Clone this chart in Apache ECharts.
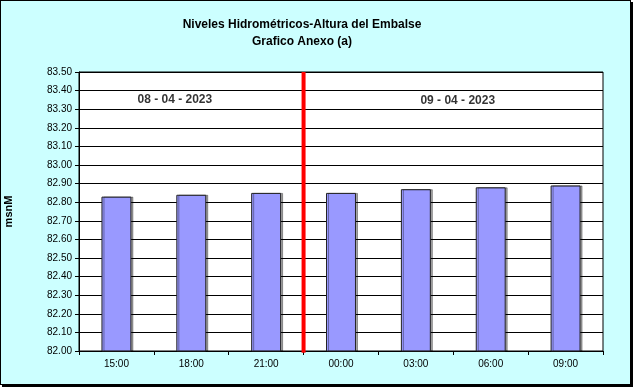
<!DOCTYPE html>
<html>
<head>
<meta charset="utf-8">
<script src="https://cdn.jsdelivr.net/npm/echarts@6/dist/echarts.min.js"></script>
<style>
html,body{margin:0;padding:0;background:#fff;}
#c{position:absolute;left:0;top:0;width:629px;height:383px;border:1px solid #000;box-shadow:2px 2px 0 #000;background:#CCFFFF;}
</style>
</head>
<body>
<div id="c"></div>
<script>
var categories = ['15:00','18:00','21:00','00:00','03:00','06:00','09:00'];
var levels = [82.83, 82.84, 82.85, 82.85, 82.87, 82.88, 82.89];
var yMin = 82.00, yMax = 83.50, yStep = 0.10;
var dividerAt = 2.5; // between 21:00 and 00:00
var dateLabels = ['08 - 04 - 2023', '09 - 04 - 2023'];
var dateLabelX = [0.78, 4.56];
var dateLabelY = [83.35, 83.345];

var chart = echarts.init(document.getElementById('c'), null, {renderer:'canvas'});
var font = 'Liberation Sans, Arial, sans-serif';
chart.setOption({
  backgroundColor: '#CCFFFF',
  animation: false,
  title: {
    text: 'Niveles Hidrométricos-Altura del Embalse\nGrafico Anexo (a)',
    left: 296, top: 10, textAlign: 'center',
    textStyle: {fontFamily: font, fontSize: 12, fontWeight: 'bold', color: '#000', lineHeight: 17}
  },
  grid: {left: 78, top: 71, width: 524, height: 279, show: true, backgroundColor: '#fff', borderColor: '#000', borderWidth: 1, containLabel: false, outerBoundsMode: 'none'},
  xAxis: [{
    type: 'category', data: categories, boundaryGap: true,
    axisLine: {show: true, onZero: false, lineStyle: {color: '#000'}},
    axisTick: {show: true, alignWithLabel: false, length: 4, lineStyle: {color: '#000'}},
    axisLabel: {fontFamily: font, fontSize: 10, color: '#000', margin: 8},
    splitLine: {show: false}
  }, {
    type: 'value', min: -0.5, max: categories.length - 0.5, show: false,
    axisLine: {show: false, onZero: false}, axisTick: {show: false}, axisLabel: {show: false}, splitLine: {show: false}
  }],
  yAxis: {
    type: 'value', min: yMin, max: yMax, interval: yStep,
    name: 'msnM', nameLocation: 'middle', nameGap: 65,
    nameTextStyle: {fontFamily: font, fontSize: 11, fontWeight: 'bold', color: '#000'},
    axisLine: {show: true, onZero: false, lineStyle: {color: '#000'}},
    axisTick: {show: true, inside: false, length: 4, lineStyle: {color: '#000'}},
    axisLabel: {fontFamily: font, fontSize: 10, color: '#000', margin: 7, formatter: function(v){return v.toFixed(2);}},
    splitLine: {show: true, lineStyle: {color: '#000', width: 1}}
  },
  series: [{
    type: 'bar', data: levels, barWidth: '40%', xAxisIndex: 0,
    itemStyle: {color: '#9999FF', borderColor: '#222', borderWidth: 1, shadowColor: 'rgba(0,0,0,0.35)', shadowOffsetX: 2, shadowOffsetY: 0, shadowBlur: 0}
  }, {
    type: 'line', xAxisIndex: 1, clip: false, symbol: 'none',
    data: [[dividerAt, yMin - 0.01], [dividerAt, yMax]],
    lineStyle: {color: '#FF0000', width: 4}, z: 5
  }, {
    type: 'scatter', xAxisIndex: 1, symbolSize: 0,
    data: dateLabelX.map(function(x, i){return {value: [x, dateLabelY[i]], name: dateLabels[i]};}),
    label: {show: true, position: 'inside', formatter: '{b}', fontFamily: font, fontSize: 12, fontWeight: 'bold', color: '#000'},
    z: 6
  }]
});
</script>
</body>
</html>
